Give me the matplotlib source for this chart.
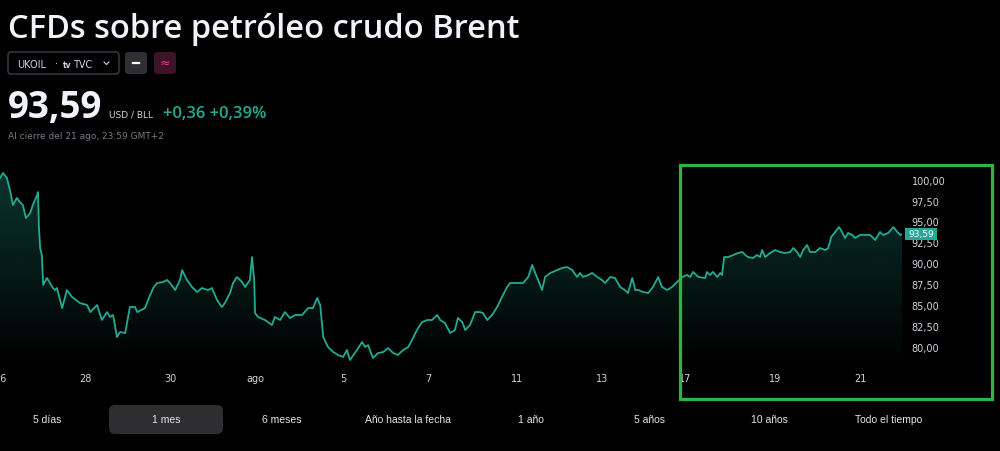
import numpy as np
import matplotlib
matplotlib.use('Agg')
import matplotlib.pyplot as plt
from matplotlib.patches import FancyBboxPatch, Rectangle
from matplotlib.lines import Line2D
import matplotlib.transforms as mtransforms

# price series (time in trading sessions from the left edge, price in USD)
times = [0.00, 0.07, 0.16, 0.23, 0.30, 0.39, 0.46, 0.53, 0.60, 0.70, 0.76, 0.86, 0.88, 0.90, 0.93, 0.97,
         1.00, 1.09, 1.21, 1.27, 1.32, 1.44, 1.55, 1.67, 1.85, 2.02, 2.09, 2.25, 2.36, 2.48, 2.55, 2.62,
         2.71, 2.78, 2.90, 3.01, 3.13, 3.18, 3.36, 3.43, 3.55, 3.64, 3.78, 3.87, 3.94, 4.06, 4.17, 4.22,
         4.33, 4.45, 4.57, 4.68, 4.82, 4.91, 5.03, 5.14, 5.21, 5.33, 5.40, 5.49, 5.61, 5.68, 5.79, 5.84,
         5.89, 5.91, 5.98, 6.14, 6.30, 6.37, 6.49, 6.60, 6.72, 6.84, 7.00, 7.14, 7.25, 7.35, 7.42, 7.49,
         7.60, 7.72, 7.83, 7.95, 8.04, 8.11, 8.27, 8.39, 8.46, 8.53, 8.64, 8.76, 8.88, 8.99, 9.11, 9.22,
         9.34, 9.46, 9.57, 9.66, 9.78, 9.90, 10.01, 10.13, 10.20, 10.31, 10.43, 10.54, 10.61, 10.71, 10.78,
         10.89, 11.01, 11.12, 11.19, 11.29, 11.40, 11.52, 11.63, 11.75, 11.82, 11.98, 12.12, 12.24, 12.33,
         12.44, 12.56, 12.63, 12.75, 12.91, 13.02, 13.14, 13.26, 13.37, 13.44, 13.51, 13.63, 13.72, 13.84,
         13.95, 14.02, 14.14, 14.25, 14.37, 14.48, 14.55, 14.65, 14.72, 14.79, 14.90, 15.02, 15.13, 15.25,
         15.34, 15.46, 15.57, 15.69, 15.81, 15.92, 15.99, 16.06, 16.18, 16.34, 16.38, 16.45, 16.52, 16.62,
         16.69, 16.73, 16.78, 16.87, 16.99, 17.10, 17.20, 17.27, 17.33, 17.45, 17.54, 17.61, 17.66, 17.73,
         17.84, 17.96, 18.08, 18.19, 18.31, 18.38, 18.47, 18.54, 18.61, 18.70, 18.77, 18.89, 19.00, 19.12,
         19.19, 19.26, 19.35, 19.44, 19.51, 19.58, 19.65, 19.75, 19.81, 19.93, 20.05, 20.16, 20.28, 20.39,
         20.46, 20.58, 20.70, 20.79, 20.86, 20.90]
prices = [100.32, 100.92, 100.32, 98.89, 97.09, 97.93, 97.45, 97.09, 95.53, 96.13, 97.09, 98.29, 98.65, 94.69, 91.94, 91.10,
          87.51, 88.35, 87.27, 86.91, 87.15, 84.75, 86.91, 86.07, 85.35, 85.11, 84.27, 85.11, 83.32, 84.27, 83.68, 83.92,
          81.28, 81.88, 81.76, 84.87, 84.87, 84.27, 84.75, 85.71, 87.15, 87.75, 87.87, 88.11, 87.75, 86.91, 88.11, 89.30,
          88.11, 87.27, 86.67, 87.15, 86.91, 87.15, 85.71, 84.87, 85.35, 86.55, 87.75, 88.47, 87.87, 87.27, 88.11, 90.86,
          88.11, 84.15, 83.68, 83.32, 82.72, 83.68, 83.32, 84.27, 83.56, 83.92, 83.92, 84.75, 84.75, 85.95, 85.11, 81.28,
          80.08, 79.48, 79.13, 78.89, 79.72, 78.53, 79.72, 80.68, 80.08, 80.32, 78.77, 79.36, 79.48, 79.96, 79.36, 79.13,
          79.72, 80.08, 81.16, 82.12, 83.08, 83.32, 83.32, 83.92, 83.32, 82.96, 81.76, 82.12, 83.56, 83.08, 82.12,
          82.72, 84.27, 84.27, 84.15, 83.32, 83.92, 84.87, 86.07, 87.27, 87.75, 87.75, 87.75, 88.47, 89.90,
          88.47, 86.91, 88.47, 88.95, 89.30, 89.54, 89.66, 89.30, 88.47, 88.95, 88.47, 88.71, 88.95, 88.47,
          88.11, 87.75, 88.47, 88.35, 87.27, 86.91, 86.55, 88.35, 86.91, 86.91, 86.67, 86.55, 87.27, 88.47,
          87.27, 86.91, 87.27, 87.87, 88.47, 88.71, 88.47, 89.07, 88.47, 88.35, 89.07, 88.71, 89.07, 88.47,
          88.95, 88.71, 90.86, 90.86, 91.10, 91.34, 91.46, 91.10, 90.86, 90.74, 91.10, 90.86, 91.70, 90.86,
          91.34, 91.70, 91.46, 91.34, 91.46, 91.94, 91.46, 90.86, 91.70, 92.30, 91.46, 91.46, 91.94, 91.70,
          91.94, 93.26, 93.86, 94.45, 93.86, 93.14, 93.74, 93.50, 93.14, 93.50, 93.50, 93.50, 92.90, 93.86,
          93.50, 93.74, 94.45, 93.86, 93.50, 93.59]

last_price = 93.59
tick_pos = [0.0, 1.97, 3.94, 5.91, 7.95, 9.92, 11.98, 13.95, 15.87, 17.96, 19.93]
tick_labels = ['26', '28', '30', 'ago', '5', '7', '11', '13', '17', '19', '21']
price_ticks = [80, 82.5, 85, 87.5, 90, 92.5, 95, 97.5, 100]
ranges = ['5 días', '1 mes', '6 meses', 'Año hasta la fecha', '1 año', '5 años', '10 años', 'Todo el tiempo']
range_x = [47, 166, 282, 408, 531, 650, 769, 889]

BG = '#000000'
TEAL = '#22ab94'
TXT = '#d1d4dc'

W, H = 1000, 451
fig = plt.figure(figsize=(W / 100, H / 100), dpi=100, facecolor=BG)
# pixel coordinates, origin top-left
P = mtransforms.Affine2D().scale(1 / W, -1 / H).translate(0, 1) + fig.transFigure

# ---- chart
ax = fig.add_axes([0, 1 - 368 / H, 902 / W, (368 - 165) / H])
ax.set_facecolor(BG)
ylo, yhi = 77.57, 101.88
ax.set_xlim(0, 20.90)
ax.set_ylim(ylo, yhi)

ax.plot(times, prices, color=TEAL, lw=1.3, zorder=3, solid_joinstyle='round')
poly = ax.fill_between(times, prices, ylo, color='none', lw=0)
grad = np.zeros((256, 1, 4))
grad[:, 0, 0] = 34 / 255
grad[:, 0, 1] = 171 / 255
grad[:, 0, 2] = 148 / 255
grad[:, 0, 3] = np.linspace(0.32, 0.0, 256)
im = ax.imshow(grad, extent=[0, 20.90, ylo, yhi], aspect='auto', origin='upper', zorder=2)
im.set_clip_path(poly.get_paths()[0], transform=ax.transData)

for s in ax.spines.values():
    s.set_visible(False)
ax.yaxis.tick_right()
ax.set_yticks(price_ticks)
ax.set_yticklabels([f'{v:.2f}'.replace('.', ',') for v in price_ticks])
ax.tick_params(axis='y', length=0, pad=7, labelsize=7, labelcolor=TXT)
ax.set_xticks(tick_pos)
ax.set_xticklabels(tick_labels)
ax.tick_params(axis='x', length=0, pad=4, labelsize=7, labelcolor=TXT)

# last price badge
bt = mtransforms.blended_transform_factory(ax.transAxes, ax.transData)
ax.add_patch(Rectangle((1.0035, last_price - 0.72), 0.0355, 1.44, transform=bt,
                       facecolor=TEAL, edgecolor='none', clip_on=False, zorder=5))
ax.text(1.0035 + 0.0355 / 2, last_price, f'{last_price:.2f}'.replace('.', ','), transform=bt,
        ha='center', va='center', fontsize=6.5, color='white', zorder=6, clip_on=False)

# highlight frame
fig.add_artist(Rectangle((679.5, 164.5), 312, 234, transform=P, fill=False,
                         edgecolor='#2db34a', lw=2.3))

# ---- header
fig.text(8, 38, 'CFDs sobre petróleo crudo Brent', transform=P, fontsize=23.5, fontweight='semibold',
         family='Open Sans', color='#f0f3fa', va='baseline')

fig.add_artist(FancyBboxPatch((8, 52), 111, 22, boxstyle='round,pad=0,rounding_size=3', transform=P,
                              facecolor=BG, edgecolor='#434651', lw=0.9))
fig.text(17, 67.5, 'UKOIL', transform=P, fontsize=7, color=TXT, va='baseline')
fig.text(55, 67.5, '·', transform=P, fontsize=7, color=TXT, va='baseline')
fig.text(63, 67.5, 'tv', transform=P, fontsize=5.5, color=TXT, va='baseline', fontweight='bold')
fig.text(73, 67.5, 'TVC', transform=P, fontsize=7, color=TXT, va='baseline')
fig.add_artist(Line2D([104, 106.5, 109], [62, 64.5, 62], transform=P, color=TXT, lw=0.8))

fig.add_artist(FancyBboxPatch((125, 52), 22, 22, boxstyle='round,pad=0,rounding_size=3', transform=P,
                              facecolor='#2f2f33', edgecolor='none'))
fig.add_artist(Line2D([133, 139], [63, 63], transform=P, color='white', lw=1.6))
fig.add_artist(FancyBboxPatch((154, 52), 22, 22, boxstyle='round,pad=0,rounding_size=3', transform=P,
                              facecolor='#3d1328', edgecolor='none'))
fig.text(165, 63, '≈', transform=P, fontsize=9, color='#f23d7c', ha='center', va='center')

fig.text(8, 118, '93,59', transform=P, fontsize=26.5, fontweight='bold', family='Open Sans',
         color='#f0f3fa', va='baseline')
fig.text(109, 118, 'USD / BLL', transform=P, fontsize=6.5, color=TXT, va='baseline')
fig.text(163, 118, '+0,36 +0,39%', transform=P, fontsize=12, fontweight='semibold', family='Open Sans',
         color=TEAL, va='baseline')
fig.text(8, 139, 'Al cierre del 21 ago, 23:59 GMT+2', transform=P, fontsize=6.5, color='#787b86',
         va='baseline')

# ---- range buttons
fig.add_artist(FancyBboxPatch((109, 405), 114, 29, boxstyle='round,pad=0,rounding_size=6', transform=P,
                              facecolor='#2e2e30', edgecolor='none'))
for label, x in zip(ranges, range_x):
    fig.text(x, 420, label, transform=P, fontsize=7.5, family='Liberation Sans', color='#e6e6e6',
             ha='center', va='center')

fig.savefig('out.png', dpi=100, facecolor=BG)
